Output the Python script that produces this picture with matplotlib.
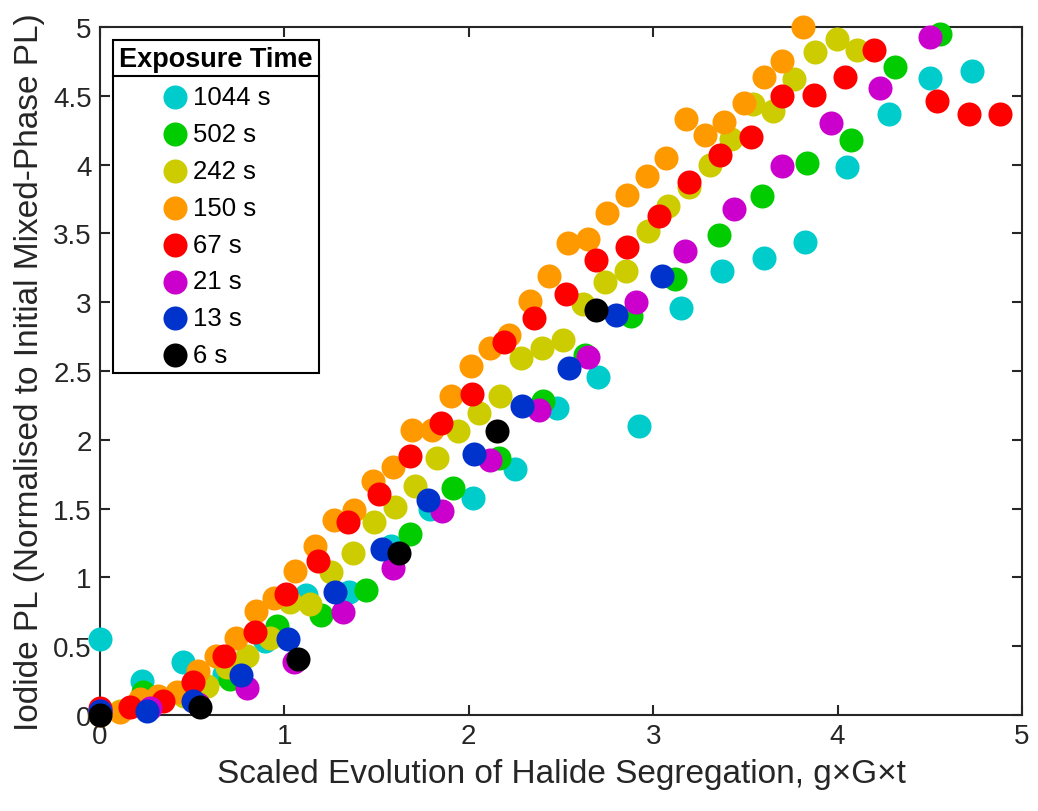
import matplotlib
matplotlib.use('Agg')
import matplotlib.pyplot as plt
from matplotlib.lines import Line2D
from matplotlib.ticker import FormatStrFormatter

plt.rcParams['font.family'] = ['Liberation Sans', 'DejaVu Sans']

# series: exposure time, colour, x, y
labels = ['1044 s', '502 s', '242 s', '150 s', '67 s', '21 s', '13 s', '6 s']
colors = ['#00CCCC', '#00CC00', '#CCCC00', '#FF9900', '#FF0000', '#CC00CC', '#0033CC', '#000000']

x_1044 = [0, 0.226, 0.45, 0.675, 0.895, 1.12, 1.35, 1.58, 1.79, 2.025, 2.25, 2.476, 2.70, 2.925,
          3.15, 3.375, 3.60, 3.823, 4.05, 4.277, 4.50, 4.73]
y_1044 = [0.55, 0.25, 0.385, 0.30, 0.54, 0.87, 0.895, 1.23, 1.50, 1.58, 1.79, 2.23, 2.46, 2.10,
          2.955, 3.23, 3.32, 3.44, 3.985, 4.37, 4.627, 4.68]

x_502 = [0, 0.235, 0.48, 0.705, 0.96, 1.2, 1.44, 1.68, 1.916, 2.165, 2.40, 2.63, 2.88, 3.12,
         3.357, 3.59, 3.836, 4.07, 4.31, 4.555]
y_502 = [0.02, 0.17, 0.18, 0.26, 0.65, 0.73, 0.91, 1.315, 1.65, 1.865, 2.285, 2.616, 2.90, 3.17,
         3.49, 3.775, 4.01, 4.18, 4.71, 4.95]

x_242 = [0, 0.11, 0.23, 0.34, 0.455, 0.58, 0.69, 0.795, 0.92, 1.03, 1.14, 1.255, 1.37, 1.486,
         1.60, 1.71, 1.826, 1.943, 2.057, 2.17, 2.283, 2.397, 2.512, 2.62, 2.74, 2.85, 2.97,
         3.08, 3.196, 3.31, 3.42, 3.54, 3.65, 3.765, 3.88, 3.995, 4.106]
y_242 = [0.01, 0.03, 0.08, 0.11, 0.14, 0.21, 0.35, 0.43, 0.56, 0.82, 0.81, 1.04, 1.18, 1.405,
         1.515, 1.665, 1.87, 2.065, 2.195, 2.32, 2.595, 2.67, 2.727, 2.99, 3.145, 3.23, 3.515,
         3.70, 3.835, 4.00, 4.186, 4.44, 4.39, 4.62, 4.82, 4.91, 4.83]

x_150 = [0, 0.11, 0.217, 0.315, 0.42, 0.53, 0.63, 0.74, 0.845, 0.945, 1.06, 1.166, 1.27, 1.38,
         1.48, 1.587, 1.69, 1.80, 1.903, 2.012, 2.115, 2.22, 2.33, 2.435, 2.54, 2.645, 2.75,
         2.86, 2.965, 3.07, 3.176, 3.28, 3.386, 3.49, 3.60, 3.70, 3.81]
y_150 = [0.0, 0.02, 0.12, 0.14, 0.17, 0.32, 0.43, 0.56, 0.755, 0.85, 1.045, 1.23, 1.42, 1.49,
         1.70, 1.80, 2.07, 2.07, 2.32, 2.54, 2.665, 2.76, 3.01, 3.19, 3.43, 3.46, 3.65,
         3.78, 3.915, 4.045, 4.335, 4.215, 4.31, 4.45, 4.635, 4.755, 5.0]

x_67 = [0, 0.163, 0.34, 0.505, 0.67, 0.84, 1.01, 1.18, 1.347, 1.515, 1.68, 1.85, 2.02, 2.19,
        2.355, 2.525, 2.69, 2.86, 3.03, 3.196, 3.36, 3.53, 3.70, 3.87, 4.04, 4.20, 4.54, 4.71, 4.88]
y_67 = [0.05, 0.06, 0.10, 0.24, 0.43, 0.605, 0.88, 1.12, 1.405, 1.605, 1.885, 2.125, 2.33, 2.71,
        2.885, 3.06, 3.31, 3.40, 3.63, 3.876, 4.07, 4.20, 4.50, 4.505, 4.635, 4.83, 4.46, 4.37, 4.37]

x_21 = [0, 0.27, 0.53, 0.795, 1.05, 1.32, 1.587, 1.853, 2.115, 2.38, 2.644, 2.907, 3.17, 3.44,
        3.70, 3.964, 4.23, 4.50]
y_21 = [0.03, 0.05, 0.08, 0.195, 0.385, 0.75, 1.07, 1.48, 1.85, 2.22, 2.60, 3.00, 3.37, 3.675,
        3.99, 4.30, 4.56, 4.93]

x_13 = [0, 0.255, 0.505, 0.765, 1.02, 1.275, 1.53, 1.78, 2.03, 2.29, 2.543, 2.80, 3.05]
y_13 = [0.03, 0.03, 0.10, 0.29, 0.55, 0.895, 1.21, 1.565, 1.90, 2.245, 2.52, 2.91, 3.19]

x_6 = [0, 0.54, 1.075, 1.62, 2.155, 2.69]
y_6 = [0, 0.06, 0.41, 1.18, 2.065, 2.94]

xs = [x_1044, x_502, x_242, x_150, x_67, x_21, x_13, x_6]
ys = [y_1044, y_502, y_242, y_150, y_67, y_21, y_13, y_6]

fig = plt.figure(figsize=(10.38, 8.12), dpi=100)
ax = fig.add_axes([0.0963, 0.1182, 0.8883, 0.8473])

for x, y, c, lab in zip(xs, ys, colors, labels):
    ax.scatter(x, y, s=300, c=c, linewidths=0, label=lab, clip_on=False, zorder=3)

ax.set_xlim(0, 5)
ax.set_ylim(0, 5)
ax.set_xticks([0, 1, 2, 3, 4, 5])
ax.set_yticks([0, 0.5, 1, 1.5, 2, 2.5, 3, 3.5, 4, 4.5, 5])
ax.yaxis.set_major_formatter(FormatStrFormatter('%g'))
ax.tick_params(direction='in', length=7, width=1.5, top=True, right=True,
               labelsize=20, colors='#262626', pad=6)
for sp in ax.spines.values():
    sp.set_color('#262626')
    sp.set_linewidth(1.5)

ax.set_xlabel('Scaled Evolution of Halide Segregation, g\u00d7G\u00d7t', fontsize=24, color='#262626', labelpad=6)
ax.set_ylabel('Iodide PL (Normalised to Initial Mixed-Phase PL)', fontsize=24, color='#262626', labelpad=6)

leg = ax.legend(loc='upper left', title='Exposure Time', fontsize=18.5, scatterpoints=1,
                frameon=True, fancybox=False, framealpha=1, edgecolor='black',
                borderpad=0.25, borderaxespad=0.5, handlelength=1.0, handletextpad=0.2,
                labelspacing=0.5)
leg.get_title().set_fontweight('bold')
leg.get_title().set_fontsize(19.5)
leg.get_frame().set_linewidth(1.5)

# separator line under the legend title
fig.canvas.draw()
inv = fig.transFigure.inverted()
lb = leg.get_window_extent()
tb = leg.get_title().get_window_extent()
yline = tb.y0 - 4
p0 = inv.transform((lb.x0, yline))
p1 = inv.transform((lb.x1, yline))
fig.add_artist(Line2D([p0[0], p1[0]], [p0[1], p1[1]], color='black', lw=1.5, zorder=10))

fig.savefig('out.png', dpi=100)
